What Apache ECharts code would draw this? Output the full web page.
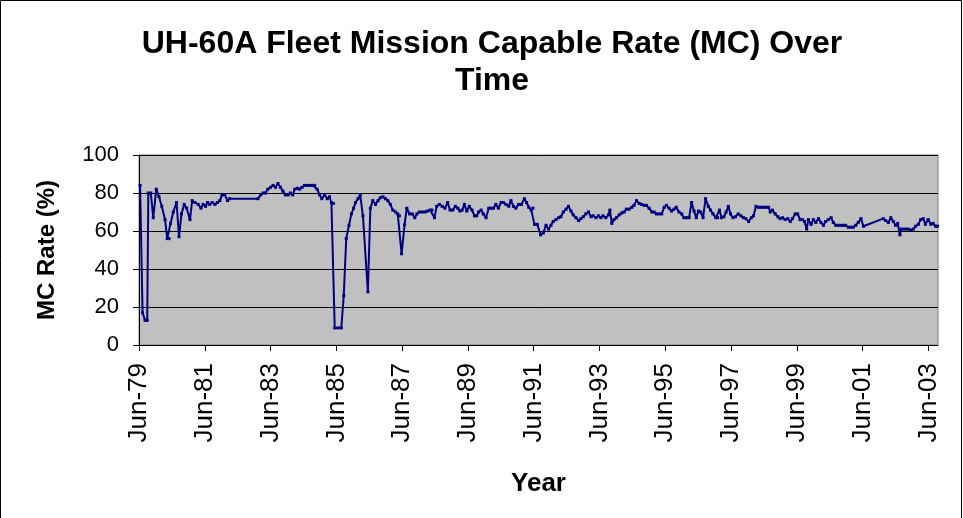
<!DOCTYPE html>
<html><head><meta charset="utf-8">
<script src="https://cdn.jsdelivr.net/npm/echarts@6.0.0/dist/echarts.min.js"></script>
<style>html,body{margin:0;padding:0;background:#fff}#c{width:963px;height:518px}</style>
</head><body><div id="c"></div>
<script>
// x values: months elapsed since June 1979
const monthsSinceJun1979 = [
0.4,1.3,2.2,3.0,3.4,4.3,5.2,6.3,7.3,8.3,9.5,10.3,11.0,11.5,12.5,13.7,14.6,15.5,16.5,17.4,18.6,19.4,20.4,21.6,22.6,23.4,24.3,25.0,25.8,26.7,27.7,28.6,29.5,30.3,31.3,32.3,33.1,
43.4,44.4,45.3,46.1,47.0,48.0,48.9,49.8,50.7,51.6,52.5,53.4,54.4,55.2,56.1,56.8,57.8,58.6,59.5,60.4,61.5,62.5,63.5,64.1,65.0,65.9,66.7,67.7,68.7,69.5,70.2,70.9,
71.4,72.6,73.8,74.7,75.6,76.6,77.5,78.3,79.0,79.9,80.7,81.7,83.5,84.4,85.3,86.3,87.2,88.0,89.0,89.9,90.8,91.7,92.6,93.6,94.4,95.0,95.8,96.9,97.7,98.7,99.7,
100.6,101.4,102.3,103.3,104.3,105.2,106.2,106.9,107.8,108.6,109.6,110.6,111.6,112.6,113.5,114.5,115.4,116.3,117.1,117.9,118.7,119.6,120.5,121.5,122.4,123.2,123.9,124.8,125.6,126.6,127.6,128.4,129.3,130.2,131.1,132.1,132.9,133.9,134.9,135.7,136.6,137.5,138.5,139.5,140.6,141.4,
142.2,143.1,143.7,144.3,145.3,146.5,147.5,148.5,149.4,150.3,151.1,152.1,153.1,153.9,154.8,155.8,156.7,157.6,158.4,159.4,160.4,161.2,162.1,163.0,164.0,164.9,165.7,166.7,167.6,168.5,169.3,170.3,171.3,171.8,172.5,173.3,174.2,175.2,176.1,177.0,177.8,178.8,179.8,180.6,181.5,182.5,183.4,184.3,185.1,186.1,187.1,187.9,188.8,189.7,190.7,191.6,192.4,193.4,194.3,195.2,196.0,197.0,198.0,198.8,199.7,200.7,201.6,202.5,203.3,204.1,204.9,205.8,206.7,207.7,208.5,209.4,210.4,211.1,211.8,212.5,213.4,214.2,215.0,215.8,216.7,217.6,218.6,
219.6,220.5,221.4,222.4,223.4,224.2,225.1,226.0,227.0,227.9,228.7,229.7,230.3,231.1,232.1,233.1,233.9,234.8,235.7,236.7,237.6,238.4,239.4,240.3,241.2,242.0,242.8,243.6,244.2,245.2,246.0,246.9,247.9,248.8,249.7,250.5,251.5,252.5,253.3,254.2,255.1,256.1,257.0,257.8,258.8,259.8,260.6,261.5,262.4,263.4,264.3,
271.5,272.4,273.4,274.3,275.2,276.0,276.8,277.6,278.0,278.8,279.7,280.6,281.6,282.5,283.3,284.3,285.2,286.1,286.9,287.9,288.9,289.7,290.6,291.3
];
// MC rate (%)
const mcRatePct = [
84,17,13,13,80,80,67,82,78,73,66,56,56,64,70,75,57,69,74,72,66,76,75,74,72,74,73,75,74,75,74,75,76,79,79,76,77,
77,79,80,80,82,83,84,83,85,83,81,79,79,80,79,82,82.5,82,83,84,84,84,84,84,82,79,77,79,77,78,75,74.5,
9,9,9,26,56,63,69,72,75,77,79,68,28,72,76,74,76,77.5,78,77,76,74,71,70,69,68,48,63.5,72,69,69,
67,69,70,70,70,70.5,71,71,67,73,74,73,72,75,71,71,73,72,70.5,71,74,70.5,73,71,68,68,70,71,69,67,72,72,72,74,72,75,75,74,73,76,73,72,74,74,77,75,
72.5,71,72,63.5,63.5,58,59,63,61,63,65,66,67,67.5,70,71.5,73,70.5,68.5,67,65.5,66.5,67.5,69,70,67.5,68,67,68,67,68,67,68.5,71,64,66,67,68.5,69.5,70,71.5,71.5,72.5,73.5,76,74.5,74,73.5,73.5,72,70,70,69,69,69,72.5,73.5,72,70.5,71.5,72.5,70,69,67,67,67,75,70.5,67,70.5,70,67,77,73,71,69,67,67,71,67,67.5,70,73,69,67,67.5,69,
68,67,66.5,65,67,68,73,72.5,72.5,72.5,72.5,72.5,70,71,69,67.5,66.5,67,66,66.5,65,66.5,69,69,66,66,65,61,66,63.5,66,64.5,66.5,64.5,63,65,66,67,64.5,63,63,63,63,63,62,62,62,63,64.5,66.5,62.5,
66.5,65.5,64.5,67,65,63,64,58,61,61,61,61,60.5,61,62.5,63.5,66,66.5,63.5,66,63.5,64,62.5,62.5
];
const yTickValues = [0, 20, 40, 60, 80, 100];
const xTickLabels = ['Jun-79','Jun-81','Jun-83','Jun-85','Jun-87','Jun-89','Jun-91','Jun-93','Jun-95','Jun-97','Jun-99','Jun-01','Jun-03'];
const titleLines = ['UH-60A Fleet Mission Capable Rate (MC) Over', 'Time'];

const FONT = '"Liberation Sans", Arial, sans-serif';
const seriesData = monthsSinceJun1979.map((m, i) => [m, mcRatePct[i]]);

const chart = echarts.init(document.getElementById('c'), null, {renderer: 'canvas'});
chart.setOption({
  animation: false,
  backgroundColor: '#ffffff',
  textStyle: {fontFamily: FONT, color: '#000'},
  graphic: [
    {type: 'rect', shape: {x: 0.5, y: 0.5, width: 961, height: 540}, style: {fill: 'none', stroke: '#000', lineWidth: 1}},
    {type: 'text', x: 492, y: 44, style: {text: titleLines[0], font: 'bold 32px ' + FONT, fill: '#000', textAlign: 'center', textVerticalAlign: 'middle'}},
    {type: 'text', x: 492, y: 81, style: {text: titleLines[1], font: 'bold 32px ' + FONT, fill: '#000', textAlign: 'center', textVerticalAlign: 'middle'}}
  ],
  grid: {left: 139, right: 25, top: 155, bottom: 173, show: true, backgroundColor: '#c0c0c0', borderColor: '#808080', borderWidth: 1},
  xAxis: {
    type: 'value', min: 0, max: 291.5, interval: 24,
    name: 'Year', nameLocation: 'middle', nameGap: 126,
    nameTextStyle: {fontFamily: FONT, fontSize: 26, fontWeight: 'bold', color: '#000'},
    axisLine: {show: true, lineStyle: {color: '#000', width: 1}},
    axisTick: {show: true, inside: false, length: 6, lineStyle: {color: '#000'}},
    splitLine: {show: false},
    axisLabel: {
      rotate: 90, margin: 18, fontSize: 26, color: '#000', fontFamily: FONT,
      showMaxLabel: false, showMinLabel: true,
      formatter: v => { const i = Math.round(v / 24); return xTickLabels[i] || ''; }
    }
  },
  yAxis: {
    type: 'value', min: yTickValues[0], max: yTickValues[yTickValues.length - 1], interval: 20,
    name: 'MC Rate (%)', nameLocation: 'middle', nameGap: 80, nameRotate: 90,
    nameTextStyle: {fontFamily: FONT, fontSize: 24, fontWeight: 'bold', color: '#000'},
    axisLine: {show: true, lineStyle: {color: '#000', width: 1}},
    axisTick: {show: true, inside: false, length: 6, lineStyle: {color: '#000'}},
    splitLine: {show: true, lineStyle: {color: '#000', width: 1}},
    axisLabel: {margin: 20, fontSize: 22, color: '#000', fontFamily: FONT}
  },
  series: [{
    type: 'line', data: seriesData,
    symbol: 'rect', symbolSize: 3, showAllSymbol: true,
    lineStyle: {color: '#000080', width: 2},
    itemStyle: {color: '#000080'},
    clip: false
  }]
});
</script>
</body></html>
